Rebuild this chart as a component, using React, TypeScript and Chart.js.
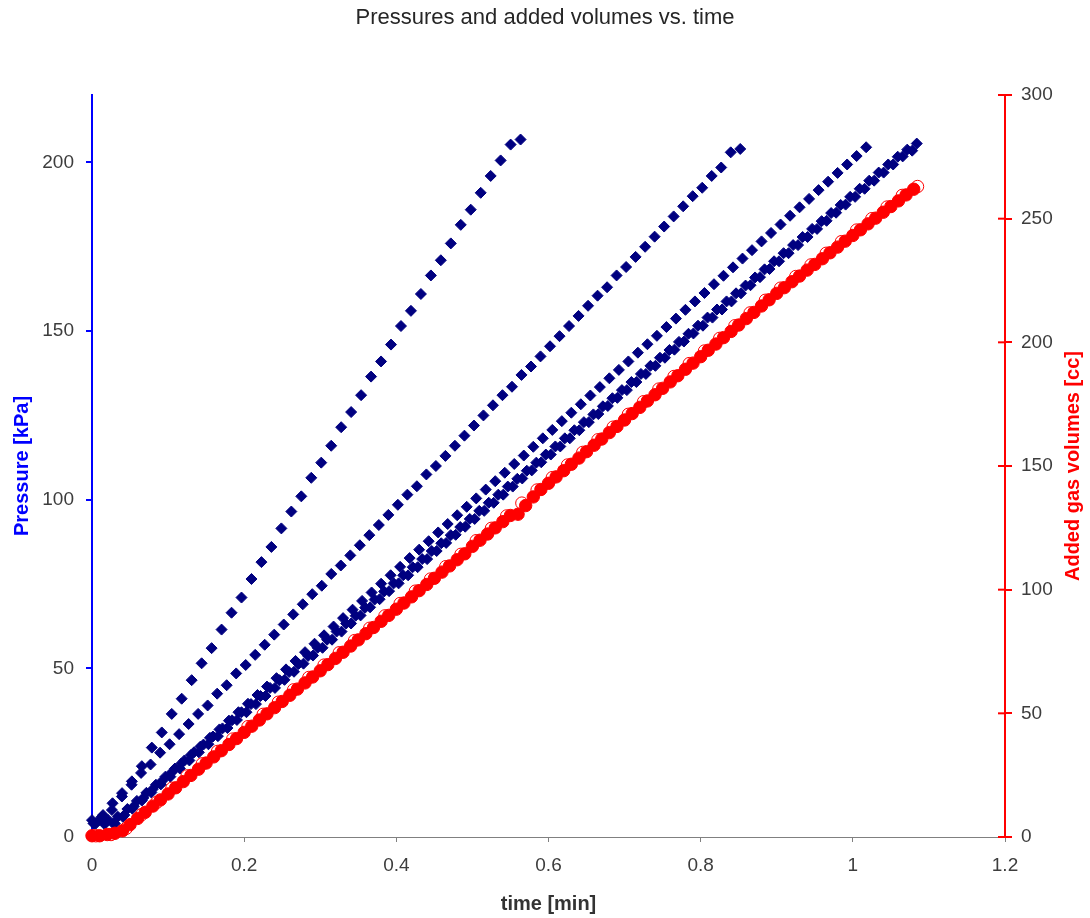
import React, { useEffect, useRef } from "react";
import { Chart, registerables } from "chart.js";

Chart.register(...registerables);

// ---------- texts ----------
const TITLE = "Pressures and added volumes vs. time";
const X_TITLE = "time [min]";
const Y_LEFT_TITLE = "Pressure [kPa]";
const Y_RIGHT_TITLE = "Added gas volumes [cc]";

// ---------- axes ----------
const X_MIN = 0;
const X_MAX = 1.2;
const X_STEP = 0.2;
const LEFT_MAX = 220;
const LEFT_TICKS = [0, 50, 100, 150, 200];
const RIGHT_MAX = 300;
const RIGHT_TICKS = [0, 50, 100, 150, 200, 250, 300];

// ---------- data (sampling start / interval in minutes) ----------
// Pressure run 1 (steepest)
const P1_START = 0;
const P1_DT = 0.0131;
const P1 = [5, 6, 8, 12, 16.5, 21, 26.5, 31, 36.5, 41, 46.5, 51.5, 56, 61.5, 66.5, 71, 76.5, 81.5, 86, 91.5,
  96.5, 101, 106.5, 111, 116, 121.5, 126, 131, 136.5, 141, 146, 151.5, 156, 161, 166.5, 171, 176, 181.5,
  186, 191, 196, 200.6, 205.3, 206.8];

// Pressure run 2
const P2_START = 0.002;
const P2_DT = 0.0125;
const P2 = [4, 6.5, 10, 13, 15.5, 19, 21.5, 25, 27.5, 30.5,
  33.5, 36.5, 39, 42.5, 45, 48.5, 51, 54, 57, 60,
  63, 66, 69, 72, 74.5, 78, 80.5, 83.5, 86.5, 89.5,
  92.5, 95.5, 98.5, 101.5, 104, 107.5, 110, 113, 116, 119,
  122, 125, 128, 131, 133.5, 137, 139.5, 142.5, 145.5, 148.5,
  151.5, 154.5, 157.5, 160.5, 163, 166.5, 169, 172, 175, 178,
  181, 184, 187, 190, 192.5, 196, 198.5, 203, 204];

// Pressure run 3
const P3_START = 0.005;
const P3_DT = 0.0125;
const P3 = [4, 4, 4, 6.5, 9.1, 11.6, 14.2, 16.7, 19.2, 21.8,
  24.3, 26.8, 29.4, 31.9, 34.5, 37, 39.5, 42.1, 44.6, 47.1,
  49.7, 52.2, 54.8, 57.3, 59.8, 62.4, 64.9, 67.4, 70, 72.5,
  75.1, 77.6, 80.1, 82.7, 85.2, 87.7, 90.3, 92.8, 95.4, 97.9,
  100.4, 103, 105.5, 108, 110.6, 113.1, 115.7, 118.2, 120.7, 123.3,
  125.8, 128.3, 130.9, 133.4, 136, 138.5, 141, 143.6, 146.1, 148.6,
  151.2, 153.7, 156.3, 158.8, 161.3, 163.9, 166.4, 168.9, 171.5, 174,
  176.6, 179.1, 181.6, 184.2, 186.7, 189.2, 191.8, 194.3, 196.9, 199.4,
  201.9, 204.5];

// Pressure run 4 (two overlapping recordings)
const P4A_START = 0.003;
const P4A_DT = 0.0125;
const P4A = [4, 4, 4, 6, 8.4, 10.8, 13.2, 15.6, 17.9, 20.3,
  22.7, 25.1, 27.5, 29.9, 32.3, 34.7, 37, 39.4, 41.8, 44.2,
  46.6, 49, 51.4, 53.8, 56.1, 58.5, 60.9, 63.3, 65.7, 68.1,
  70.5, 72.9, 75.2, 77.6, 80, 82.4, 84.8, 87.2, 89.6, 92,
  94.3, 96.7, 99.1, 101.5, 103.9, 106.3, 108.7, 111.1, 113.4, 115.8,
  118.2, 120.6, 123, 125.4, 127.8, 130.2, 132.5, 134.9, 137.3, 139.7,
  142.1, 144.5, 146.9, 149.3, 151.6, 154, 156.4, 158.8, 161.2, 163.6,
  166, 168.4, 170.7, 173.1, 175.5, 177.9, 180.3, 182.7, 185.1, 187.5,
  189.8, 192.2, 194.6, 197, 199.4, 201.8, 203.5];

const P4B_START = 0.009;
const P4B_DT = 0.0125;
const P4B = [5, 5, 6, 8.3, 10.7, 13.1, 15.5, 17.9, 20.3, 22.7,
  25.1, 27.4, 29.8, 32.2, 34.6, 37, 39.4, 41.8, 44.2, 46.5,
  48.9, 51.3, 53.7, 56.1, 58.5, 60.9, 63.3, 65.6, 68, 70.4,
  72.8, 75.2, 77.6, 80, 82.4, 84.8, 87.1, 89.5, 91.9, 94.3,
  96.7, 99.1, 101.5, 103.9, 106.2, 108.6, 111, 113.4, 115.8, 118.2,
  120.6, 123, 125.3, 127.7, 130.1, 132.5, 134.9, 137.3, 139.7, 142.1,
  144.4, 146.8, 149.2, 151.6, 154, 156.4, 158.8, 161.2, 163.5, 165.9,
  168.3, 170.7, 173.1, 175.5, 177.9, 180.3, 182.6, 185, 187.4, 189.8,
  192.2, 194.6, 197, 199.4, 201.7, 203.8, 205.6];

// Added gas volume (filled markers)
const V1_START = 0;
const V1_DT = 0.01;
const V1 = [0.5, 0.5, 1, 1.5, 2.5, 5, 7.5, 10, 12.5, 15,
  17.4, 19.9, 22.4, 24.9, 27.4, 29.9, 32.4, 34.9, 37.4, 39.8,
  42.3, 44.8, 47.3, 49.8, 52.3, 54.8, 57.3, 59.8, 62.3, 64.7,
  67.2, 69.7, 72.2, 74.7, 77.2, 79.7, 82.2, 84.7, 87.2, 89.6,
  92.1, 94.6, 97.1, 99.6, 102.1, 104.6, 107.1, 109.6, 112.1, 114.5,
  117.5, 120, 122.5, 125, 127.5, 130, 130.5, 134, 137.5, 140.5,
  143, 145.6, 148.1, 150.7, 153.2, 155.8, 158.4, 160.9, 163.5, 166,
  168.6, 171.2, 173.7, 176.3, 178.8, 181.4, 184, 186.5, 189.1, 191.6,
  194.2, 196.8, 199.3, 201.9, 204.4, 207, 209.6, 212.1, 214.7, 217.2,
  219.8, 222.1, 224.5, 226.8, 229.2, 231.5, 233.8, 236.2, 238.5, 240.9,
  243.2, 245.5, 247.9, 250.2, 252.6, 254.9, 257.2, 259.6, 261.9];

// Added gas volume (open markers)
const V2_START = 0.005;
const V2_DT = 0.02;
const V2 = [0.5, 1, 3.5, 9, 14, 19.7, 24.7, 29.6, 34.6, 39.6,
  44.6, 49.6, 54.5, 59.5, 64.5, 69.5, 74.5, 79.4, 84.4, 89.4,
  94.4, 99.4, 104.3, 109.3, 114.3, 119.8, 124.8, 129.8, 135, 140.3,
  145.3, 150.4, 155.5, 160.6, 165.7, 170.9, 176, 181.1, 186.2, 191.4,
  196.5, 201.6, 206.7, 211.9, 217, 221.9, 226.6, 231.3, 236, 240.7,
  245.4, 250, 254.7, 259.4, 263];

// ---------- styles ----------
const NAVY = "#000080";
const BLUE = "#0000ff";
const RED = "#ff0000";
const TEXT = "#3d3d3d";
const FONT = '"Liberation Sans", Arial, Helvetica, sans-serif';

function toPoints(start: number, dt: number, values: number[]) {
  return values.map((v, i) => ({ x: +(start + i * dt).toFixed(4), y: v }));
}

const rightAxisExtras = {
  id: "rightAxisExtras",
  afterDatasetsDraw(chart: any) {
    const s = chart.scales.y2;
    const ctx = chart.ctx;
    ctx.save();
    ctx.strokeStyle = RED;
    ctx.lineWidth = 2;
    s.ticks.forEach((t: any) => {
      const y = s.getPixelForValue(t.value);
      ctx.beginPath();
      ctx.moveTo(s.left - 7, y);
      ctx.lineTo(s.left, y);
      ctx.stroke();
    });
    ctx.restore();
  },
  afterDraw(chart: any) {
    const s = chart.scales.y2;
    const { ctx, chartArea } = chart;
    ctx.save();
    ctx.translate(s.right - 17, (chartArea.top + chartArea.bottom) / 2);
    ctx.rotate(-Math.PI / 2);
    ctx.font = `bold 20px ${FONT}`;
    ctx.fillStyle = RED;
    ctx.textAlign = "center";
    ctx.textBaseline = "middle";
    ctx.fillText(Y_RIGHT_TITLE, 0, 0);
    ctx.restore();
  },
};

export default function App() {
  const ref = useRef<HTMLCanvasElement>(null);

  useEffect(() => {
    if (!ref.current) return;
    const diamond = (label: string, start: number, dt: number, vals: number[]) => ({
      label,
      data: toPoints(start, dt, vals),
      yAxisID: "y",
      pointStyle: "rectRot",
      pointRadius: 5.5,
      pointBorderWidth: 1,
      backgroundColor: NAVY,
      borderColor: NAVY,
      showLine: false,
      clip: false,
    });
    const chart = new Chart(ref.current, {
      type: "scatter",
      data: {
        datasets: [
          {
            label: "Volume A",
            data: toPoints(V1_START, V1_DT, V1),
            yAxisID: "y2",
            pointStyle: "circle",
            pointRadius: 6.2,
            pointBorderWidth: 1,
            backgroundColor: RED,
            borderColor: RED,
            showLine: false,
            clip: false,
          },
          {
            label: "Volume B",
            data: toPoints(V2_START, V2_DT, V2),
            yAxisID: "y2",
            pointStyle: "circle",
            pointRadius: 6.2,
            pointBorderWidth: 1,
            backgroundColor: "#ffffff",
            borderColor: RED,
            showLine: false,
            clip: false,
          },
          diamond("Run 1", P1_START, P1_DT, P1),
          diamond("Run 2", P2_START, P2_DT, P2),
          diamond("Run 3", P3_START, P3_DT, P3),
          diamond("Run 4a", P4A_START, P4A_DT, P4A),
          diamond("Run 4b", P4B_START, P4B_DT, P4B),
        ] as any,
      },
      options: {
        responsive: false,
        animation: false,
        devicePixelRatio: 1,
        layout: { padding: { top: 0, left: 0, right: 0, bottom: 0 } },
        plugins: {
          legend: { display: false },
          tooltip: { enabled: false },
          title: {
            display: true,
            text: TITLE,
            color: "#262626",
            font: { family: FONT, size: 22, weight: "normal", lineHeight: 1.2 },
            padding: { top: 5, bottom: 63.6 },
          },
        },
        scales: {
          x: {
            type: "linear",
            min: X_MIN,
            max: X_MAX,
            afterFit: (s: any) => {
              s.height = 81;
            },
            ticks: {
              stepSize: X_STEP,
              color: TEXT,
              padding: 12,
              font: { family: FONT, size: 19 },
              callback: (v: any) => String(Number(Number(v).toFixed(1))),
            },
            grid: {
              drawOnChartArea: false,
              drawTicks: true,
              tickLength: 5,
              color: "#808080",
              lineWidth: 1,
            },
            border: { display: true, color: "#808080", width: 1 },
            title: {
              display: true,
              text: X_TITLE,
              color: "#333333",
              font: { family: FONT, size: 20, weight: "bold" },
              padding: { top: 0, bottom: 2 },
            },
          },
          y: {
            type: "linear",
            position: "left",
            min: 0,
            max: LEFT_MAX,
            afterFit: (s: any) => {
              s.width = 92;
            },
            afterBuildTicks: (s: any) => {
              s.ticks = LEFT_TICKS.map((v) => ({ value: v }));
            },
            ticks: {
              color: TEXT,
              padding: 12,
              font: { family: FONT, size: 19 },
            },
            grid: {
              drawOnChartArea: false,
              drawTicks: true,
              tickLength: 6,
              color: BLUE,
              lineWidth: 2,
            },
            border: { display: true, color: BLUE, width: 2 },
            title: {
              display: true,
              text: Y_LEFT_TITLE,
              color: BLUE,
              font: { family: FONT, size: 20, weight: "bold" },
              padding: { top: 10, bottom: 0 },
            },
          },
          y2: {
            type: "linear",
            position: "right",
            min: 0,
            max: RIGHT_MAX,
            afterFit: (s: any) => {
              s.width = 85;
            },
            afterBuildTicks: (s: any) => {
              s.ticks = RIGHT_TICKS.map((v) => ({ value: v }));
            },
            ticks: {
              color: TEXT,
              padding: 9,
              font: { family: FONT, size: 19 },
            },
            grid: {
              drawOnChartArea: false,
              drawTicks: true,
              tickLength: 7,
              color: RED,
              lineWidth: 2,
            },
            border: { display: true, color: RED, width: 2 },
          },
        },
      } as any,
      plugins: [rightAxisExtras],
    });
    return () => chart.destroy();
  }, []);

  return (
    <div style={{ position: "fixed", left: 0, top: 0, width: 1090, height: 918, background: "#ffffff" }}>
      <canvas ref={ref} width={1090} height={918} style={{ display: "block" }} />
    </div>
  );
}
